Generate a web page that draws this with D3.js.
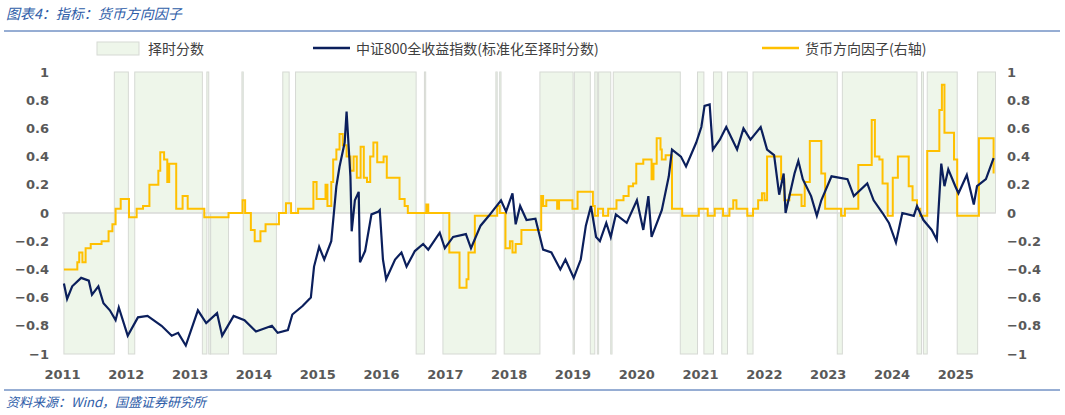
<!DOCTYPE html>
<html><head><meta charset="utf-8">
<script src="https://cdn.jsdelivr.net/npm/d3@7"></script>
<style>
body{margin:0;background:#fff;font-family:"Noto Sans CJK SC","DejaVu Sans",sans-serif;}
</style></head>
<body><svg id="c" width="1065" height="415"></svg>
<script>
// timing score segments [start, end, value]
const scoreSegs = [
  [2011.03,2011.82,-1],[2011.82,2012.04,1],[2012.04,2012.14,-1],[2012.14,2013.20,1],
  [2013.20,2013.27,-1],[2013.27,2013.30,1],[2013.30,2013.33,-1],[2013.33,2013.61,-1],
  [2013.82,2013.84,1],[2013.84,2014.36,-1],[2014.46,2014.56,1],[2014.66,2016.55,1],
  [2016.55,2016.68,-1],[2016.68,2016.70,1],[2016.97,2017.80,-1],[2017.80,2017.82,1],
  [2017.86,2017.88,1],[2017.93,2018.49,-1],[2018.49,2019.01,1],[2019.01,2019.03,-1],
  [2019.03,2019.28,1],[2019.28,2019.35,-1],[2019.35,2019.39,1],[2019.39,2019.41,-1],
  [2019.41,2019.60,1],[2019.60,2019.62,-1],[2019.64,2020.69,1],[2020.69,2020.96,-1],
  [2020.96,2021.06,1],[2021.06,2021.21,-1],[2021.21,2021.34,1],[2021.34,2021.43,-1],
  [2021.43,2021.74,1],[2021.74,2021.83,-1],[2021.83,2023.15,1],[2023.15,2023.23,-1],
  [2023.23,2024.40,1],[2024.40,2024.47,-1],[2024.47,2024.50,1],[2024.50,2024.56,-1],
  [2024.56,2025.03,1],[2025.03,2025.35,-1],[2025.35,2025.63,1]
];
// CSI 800 total return index, normalised
const csiDates = [2011.03,2011.08,2011.16,2011.30,2011.42,2011.47,2011.57,2011.65,2011.75,2011.84,2011.89,2012.03,2012.19,2012.34,2012.56,2012.72,2012.82,2012.94,2013.13,2013.26,2013.43,2013.51,2013.69,2013.86,2014.04,2014.29,2014.38,2014.54,2014.61,2014.77,2014.90,2014.95,2015.03,2015.11,2015.22,2015.30,2015.35,2015.43,2015.46,2015.52,2015.54,2015.59,2015.65,2015.67,2015.75,2015.85,2015.96,2015.98,2016.03,2016.08,2016.22,2016.32,2016.40,2016.53,2016.66,2016.74,2016.92,2017.00,2017.13,2017.33,2017.41,2017.56,2017.69,2017.88,2017.96,2018.06,2018.11,2018.18,2018.28,2018.42,2018.54,2018.67,2018.81,2018.89,2019.02,2019.13,2019.21,2019.29,2019.37,2019.43,2019.53,2019.60,2019.68,2019.85,2020.01,2020.11,2020.19,2020.24,2020.40,2020.51,2020.56,2020.70,2020.78,2020.94,2021.02,2021.07,2021.15,2021.20,2021.31,2021.41,2021.58,2021.68,2021.79,2021.95,2022.05,2022.16,2022.24,2022.31,2022.34,2022.48,2022.54,2022.61,2022.74,2022.83,2022.90,2023.06,2023.31,2023.41,2023.62,2023.72,2023.86,2023.96,2024.07,2024.17,2024.35,2024.40,2024.50,2024.63,2024.71,2024.78,2024.83,2024.89,2025.00,2025.05,2025.18,2025.29,2025.34,2025.48,2025.60];
const csiValues = [-0.50,-0.61,-0.52,-0.46,-0.48,-0.58,-0.52,-0.64,-0.69,-0.76,-0.67,-0.87,-0.74,-0.73,-0.80,-0.87,-0.85,-0.94,-0.69,-0.78,-0.71,-0.87,-0.73,-0.76,-0.84,-0.80,-0.85,-0.83,-0.72,-0.66,-0.60,-0.38,-0.24,-0.33,-0.20,0.19,0.33,0.50,0.72,0.26,-0.13,0.09,0.15,-0.35,-0.27,-0.01,0.01,0.02,-0.33,-0.47,-0.33,-0.28,-0.38,-0.27,-0.22,-0.26,-0.14,-0.25,-0.17,-0.15,-0.25,-0.09,-0.02,0.09,0.01,0.14,-0.08,0.05,-0.05,-0.04,-0.26,-0.28,-0.40,-0.33,-0.46,-0.33,-0.09,0.05,-0.17,-0.20,-0.07,-0.17,-0.01,-0.07,0.09,-0.12,0.12,-0.17,0.02,0.26,0.45,0.40,0.33,0.50,0.61,0.76,0.77,0.45,0.52,0.61,0.45,0.60,0.52,0.61,0.45,0.41,0.13,0.28,0.0,0.28,0.37,0.24,0.12,-0.02,0.09,0.26,0.24,0.12,0.21,0.09,0.0,-0.07,-0.21,0.0,-0.02,0.05,-0.05,-0.12,-0.19,0.35,0.19,0.31,0.19,0.14,0.27,0.06,0.19,0.24,0.39];
// money direction factor (step series)
const moneyDates = [2011.03,2011.24,2011.27,2011.32,2011.37,2011.45,2011.62,2011.73,2011.79,2011.84,2011.92,2012.05,2012.17,2012.27,2012.37,2012.51,2012.54,2012.60,2012.65,2012.68,2012.79,2012.89,2012.97,2013.23,2013.61,2013.83,2013.87,2013.96,2014.02,2014.11,2014.19,2014.40,2014.51,2014.59,2014.70,2014.94,2014.99,2015.13,2015.16,2015.22,2015.25,2015.30,2015.35,2015.40,2015.46,2015.52,2015.57,2015.62,2015.68,2015.73,2015.78,2015.83,2015.88,2015.94,2016.04,2016.09,2016.29,2016.37,2016.42,2016.71,2016.74,2017.07,2017.23,2017.34,2017.37,2017.47,2017.82,2017.86,2017.95,2018.02,2018.06,2018.11,2018.20,2018.51,2018.54,2018.59,2018.76,2018.79,2019.00,2019.08,2019.32,2019.35,2019.40,2019.48,2019.56,2019.69,2019.80,2019.88,2019.95,2020.00,2020.11,2020.24,2020.27,2020.32,2020.38,2020.40,2020.46,2020.56,2020.72,2020.98,2021.12,2021.23,2021.36,2021.46,2021.52,2021.57,2021.74,2021.83,2021.91,2021.97,2022.01,2022.05,2022.27,2022.32,2022.40,2022.59,2022.64,2022.72,2022.90,2022.96,2023.21,2023.27,2023.48,2023.69,2023.74,2023.81,2023.86,2023.94,2024.02,2024.10,2024.27,2024.33,2024.40,2024.45,2024.56,2024.75,2024.79,2024.83,2024.98,2025.03,2025.37,2025.60];
const moneyValues = [-0.40,-0.35,-0.28,-0.35,-0.25,-0.22,-0.20,-0.13,-0.08,0.03,0.10,-0.03,0.03,0.05,0.20,0.30,0.43,0.38,0.22,0.35,0.03,0.12,0.03,-0.03,0.0,0.09,0.0,-0.12,-0.20,-0.13,-0.08,0.0,0.07,0.0,0.03,0.22,0.10,0.20,0.05,0.22,0.38,0.45,0.56,0.48,0.40,0.30,0.40,0.25,0.47,0.25,0.22,0.40,0.50,0.36,0.40,0.25,0.10,0.05,0.0,0.06,0.0,-0.28,-0.53,-0.47,-0.28,-0.02,0.05,0.0,-0.25,-0.20,-0.28,-0.22,-0.12,0.12,0.05,0.09,0.03,0.09,0.03,0.15,0.05,-0.02,0.03,-0.02,0.03,0.09,0.12,0.19,0.21,0.35,0.38,0.24,0.35,0.53,0.45,0.38,0.41,0.03,-0.02,0.03,-0.02,0.03,-0.02,0.03,0.09,0.03,-0.02,0.03,0.09,0.14,0.09,0.40,0.24,0.09,0.13,0.05,0.22,0.51,0.28,0.03,-0.02,0.03,0.34,0.66,0.40,0.38,0.21,-0.02,0.25,0.40,0.19,0.09,0.03,-0.02,0.44,0.73,0.91,0.57,0.38,-0.02,0.53,0.28];
const yTicks = [-1,-0.8,-0.6,-0.4,-0.2,0,0.2,0.4,0.6,0.8,1];
const years = d3.range(2011, 2026);

const svg = d3.select("#c");
const x = d3.scaleLinear().domain([2011, 2025.63]).range([62, 995.5]);
const y = d3.scaleLinear().domain([-1, 1]).range([354, 72]);
const gray = "#595959";

// title & footer
svg.append("text").attr("x", 6).attr("y", 19).attr("font-size", 14).attr("font-style", "italic")
  .attr("fill", "#2e5da8").text("图表4：指标：货币方向因子");
svg.append("line").attr("x1", 4).attr("x2", 1060).attr("y1", 31).attr("y2", 31).attr("stroke", "#2e5da8").attr("stroke-width", 1);
svg.append("line").attr("x1", 4).attr("x2", 1060).attr("y1", 390).attr("y2", 390).attr("stroke", "#2e5da8").attr("stroke-width", 1);
svg.append("text").attr("x", 6).attr("y", 407).attr("font-size", 13).attr("font-style", "italic")
  .attr("fill", "#2e5da8").text("资料来源：Wind，国盛证券研究所");

// score bars
svg.append("g").selectAll("rect").data(scoreSegs).join("rect")
  .attr("x", d => x(d[0])).attr("width", d => Math.max(1, x(d[1]) - x(d[0])))
  .attr("y", d => y(Math.max(0, d[2]))).attr("height", d => Math.abs(y(d[2]) - y(0)))
  .attr("fill", "#eef6ea").attr("stroke", "#d6d9d4").attr("stroke-width", 1);

// zero line
svg.append("line").attr("x1", x(2011)).attr("x2", x(2025.63)).attr("y1", y(0)).attr("y2", y(0))
  .attr("stroke", "#d9d9d9").attr("stroke-width", 1.2);

// axes
const yl = svg.append("g").attr("transform", "translate(52,0)").call(d3.axisLeft(y).tickValues(yTicks).tickSize(0).tickFormat(d3.format("~g")));
const yr = svg.append("g").attr("transform", "translate(1004,0)").call(d3.axisRight(y).tickValues(yTicks).tickSize(0).tickFormat(d3.format("~g")));
const xa = svg.append("g").attr("transform", "translate(0,364)").call(d3.axisBottom(x).tickValues(years).tickSize(0).tickFormat(d3.format("d")));
[yl, yr, xa].forEach(g => {
  g.select(".domain").remove();
  g.selectAll("text").attr("font-size", 13).attr("font-weight", "bold").attr("fill", gray)
    .attr("font-family", "'DejaVu Sans',sans-serif");
});
xa.selectAll("text").attr("dy", "0.9em");
yr.selectAll("text").attr("text-anchor", "start");
yl.selectAll("text").attr("text-anchor", "end");

// lines
const csi = csiDates.map((d, i) => [d, csiValues[i]]);
const money = moneyDates.map((d, i) => [d, moneyValues[i]]);
svg.append("path").datum(money).attr("fill", "none").attr("stroke", "#ffc000").attr("stroke-width", 2)
  .attr("d", d3.line().x(d => x(d[0])).y(d => y(d[1])).curve(d3.curveStepAfter));
svg.append("path").datum(csi).attr("fill", "none").attr("stroke", "#0b1f5c").attr("stroke-width", 2.2)
  .attr("d", d3.line().x(d => x(d[0])).y(d => y(d[1])));

// legend
const lg = svg.append("g").attr("font-size", 14).attr("fill", "#404040");
lg.append("rect").attr("x", 97).attr("y", 42).attr("width", 42).attr("height", 13).attr("fill", "#eef6ea").attr("stroke", "#d6d9d4");
lg.append("text").attr("x", 148).attr("y", 54).attr("fill", "#404040").text("择时分数");
lg.append("line").attr("x1", 313).attr("x2", 350).attr("y1", 48).attr("y2", 48).attr("stroke", "#0b1f5c").attr("stroke-width", 2.5);
lg.append("text").attr("x", 356).attr("y", 54).attr("fill", "#404040").text("中证800全收益指数(标准化至择时分数)");
lg.append("line").attr("x1", 762).attr("x2", 799).attr("y1", 48).attr("y2", 48).attr("stroke", "#ffc000").attr("stroke-width", 2.5);
lg.append("text").attr("x", 805).attr("y", 54).attr("fill", "#404040").text("货币方向因子(右轴)");
</script></body></html>
